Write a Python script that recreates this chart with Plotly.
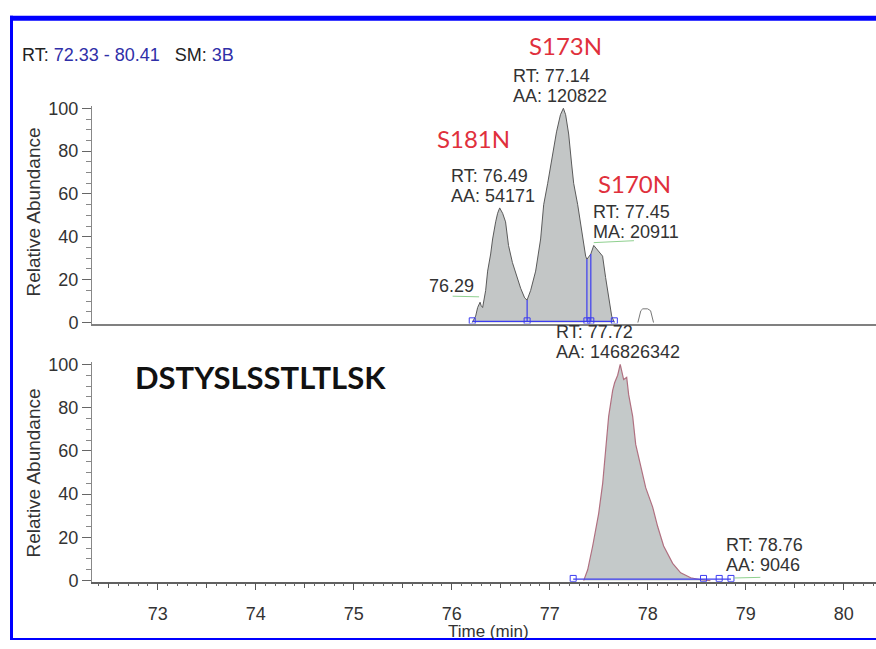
import plotly.graph_objects as go

W, H = 876, 649

# time window shown on both panels (min)
t_start, t_end = 72.33, 80.33

# upper chromatogram: S181N / S173N / S170N cluster (relative abundance, %)
top_t = [76.21, 76.245, 76.265, 76.29, 76.30, 76.316, 76.347, 76.367, 76.398, 76.418,
         76.449, 76.469, 76.49, 76.52, 76.55, 76.58, 76.62, 76.653, 76.704, 76.745,
         76.77, 76.806, 76.857, 76.908, 76.939, 76.98, 77.01, 77.03, 77.07, 77.11,
         77.14, 77.163, 77.194, 77.224, 77.245, 77.286, 77.337, 77.367, 77.38, 77.42,
         77.45, 77.49, 77.54, 77.571, 77.602, 77.633, 77.66]
top_v = [0, 3, 7, 9.5, 8, 7, 15, 24, 32, 39,
         47, 51, 53.5, 51, 47, 36, 28, 23, 16, 11.5,
         10.5, 15, 24, 39, 55, 65, 73, 79, 89, 97,
         100, 97, 88, 74, 65, 55, 39, 31, 29.5, 32,
         36, 34, 31, 21, 12, 3, 0]

# small unintegrated bump near 78 min
bump_t = [77.90, 77.93, 77.95, 78.00, 78.03, 78.06]
bump_v = [0, 5.5, 6.4, 6.4, 5.5, 0]

# lower chromatogram: DSTYSLSSTLTLSK
bot_t = [77.347, 77.388, 77.439, 77.469, 77.50, 77.541, 77.571, 77.602, 77.643, 77.663,
         77.694, 77.72, 77.755, 77.786, 77.806, 77.847, 77.878, 77.929, 77.98, 78.051,
         78.102, 78.163, 78.255, 78.337, 78.439, 78.541, 78.64]
bot_v = [0, 5, 16, 24, 31, 45, 61, 76, 88, 91.5,
         95, 100, 93, 94, 86, 76, 63, 53, 43, 34,
         25, 16, 8, 3.6, 1.3, 0.4, 0]

# integration boundaries
top_bounds_t = [76.21, 76.77, 77.38, 77.42, 77.66]
top_split_t = [76.77, 77.38, 77.42]
top_split_v = [10.5, 29.5, 32.0]
bot_bounds_t = [77.24, 78.57, 78.73, 78.85]

y_ticks = [0, 20, 40, 60, 80, 100]
x_ticks = [73, 74, 75, 76, 77, 78, 79, 80]

GRAY_TXT = "#333333"
RED = "#e0303c"
BLUE = "#3c3cf0"
BASE_FONT = "Liberation Sans"


def P(x, y):
    """pixel position -> paper coordinates"""
    return x / W, 1 - y / H


fig = go.Figure()

# upper panel
fig.add_trace(go.Scatter(x=top_t, y=top_v, mode="lines", fill="tozeroy",
                         fillcolor="#c3c6c6", line=dict(color="#5a5a5a", width=1),
                         xaxis="x", yaxis="y", hoverinfo="skip"))
fig.add_trace(go.Scatter(x=bump_t, y=bump_v, mode="lines",
                         line=dict(color="#777777", width=1),
                         xaxis="x", yaxis="y", hoverinfo="skip"))
for t, v in zip(top_split_t, top_split_v):
    fig.add_trace(go.Scatter(x=[t, t], y=[0.5, v], mode="lines",
                             line=dict(color=BLUE, width=1.2),
                             xaxis="x", yaxis="y", hoverinfo="skip"))
fig.add_trace(go.Scatter(x=[top_bounds_t[0], top_bounds_t[-1]], y=[0.5, 0.5], mode="lines",
                         line=dict(color=BLUE, width=1.2), xaxis="x", yaxis="y",
                         hoverinfo="skip"))
fig.add_trace(go.Scatter(x=top_bounds_t, y=[0.8] * len(top_bounds_t), mode="markers",
                         marker=dict(symbol="square-open", size=6, color=BLUE,
                                     line=dict(width=1)),
                         xaxis="x", yaxis="y", hoverinfo="skip"))
# label leader lines
fig.add_trace(go.Scatter(x=[76.01, 76.28], y=[12.3, 12.0], mode="lines",
                         line=dict(color="#8fd08f", width=1), xaxis="x", yaxis="y",
                         hoverinfo="skip"))
fig.add_trace(go.Scatter(x=[77.45, 77.86], y=[37.3, 38.2], mode="lines",
                         line=dict(color="#8fd08f", width=1), xaxis="x", yaxis="y",
                         hoverinfo="skip"))

# lower panel
fig.add_trace(go.Scatter(x=bot_t, y=bot_v, mode="lines", fill="tozeroy",
                         fillcolor="#c4c9c9", line=dict(color="#b07080", width=1.2),
                         xaxis="x2", yaxis="y2", hoverinfo="skip"))
fig.add_trace(go.Scatter(x=[bot_bounds_t[0], bot_bounds_t[-1]], y=[0.7, 0.7], mode="lines",
                         line=dict(color=BLUE, width=1.2), xaxis="x2", yaxis="y2",
                         hoverinfo="skip"))
fig.add_trace(go.Scatter(x=bot_bounds_t, y=[1.0] * len(bot_bounds_t), mode="markers",
                         marker=dict(symbol="square-open", size=6, color=BLUE,
                                     line=dict(width=1)),
                         xaxis="x2", yaxis="y2", hoverinfo="skip"))
fig.add_trace(go.Scatter(x=[78.88, 79.15], y=[1.2, 1.5], mode="lines",
                         line=dict(color="#8fd08f", width=1), xaxis="x2", yaxis="y2",
                         hoverinfo="skip"))
# carrier for the half-minute tick axis
fig.add_trace(go.Scatter(x=[t_start], y=[-5], mode="markers", marker=dict(opacity=0),
                         xaxis="x3", yaxis="y2", hoverinfo="skip"))

xdom = [92 / W, 1.0]
top_dom = [1 - 324.1 / H, 1 - 100.8 / H]
bot_dom = [1 - 589.1 / H, 1 - 363.8 / H]

yaxis_common = dict(
    range=[-0.5, 101], tickvals=y_ticks, ticks="outside", ticklen=9, tickwidth=1,
    tickcolor="#666666", showline=True, linecolor="#888888", linewidth=1,
    showgrid=False, zeroline=False,
    tickfont=dict(family=BASE_FONT, size=18, color=GRAY_TXT),
    minor=dict(dtick=5, ticks="outside", ticklen=5, tickcolor="#888888"),
    fixedrange=True,
)

fig.update_layout(
    width=W, height=H, margin=dict(l=0, r=0, t=0, b=0),
    paper_bgcolor="white", plot_bgcolor="white", showlegend=False,
    xaxis=dict(domain=xdom, range=[t_start, t_end], anchor="y", showline=True,
               linecolor="#808080", linewidth=1.5, ticks="", showticklabels=False,
               showgrid=False, zeroline=False),
    yaxis=dict(domain=top_dom, anchor="x", **yaxis_common),
    xaxis2=dict(domain=xdom, range=[t_start, t_end], anchor="y2", showline=True,
                linecolor="#606060", linewidth=1.5, tickvals=x_ticks, ticks="outside",
                ticklen=7, tickcolor="#555555", showgrid=False, zeroline=False,
                ticklabelstandoff=8,
                tickfont=dict(family=BASE_FONT, size=18, color=GRAY_TXT),
                minor=dict(dtick=0.1, tick0=0, ticks="outside", ticklen=3,
                           tickcolor="#666666")),
    xaxis3=dict(domain=xdom, range=[t_start, t_end], anchor="y2", overlaying="x2",
                side="bottom", tickvals=[v + 0.5 for v in [72] + x_ticks],
                ticks="outside", ticklen=5, tickcolor="#555555",
                showticklabels=False, showline=False, showgrid=False, zeroline=False),
    yaxis2=dict(domain=bot_dom, anchor="x2", **yaxis_common),
)

ann = []


def text(x, y, s, size=18, color=GRAY_TXT, family=BASE_FONT, xanchor="left", angle=0):
    px, py = P(x, y)
    ann.append(dict(x=px, y=py, xref="paper", yref="paper", text=s, showarrow=False,
                    xanchor=xanchor, yanchor="middle", textangle=angle,
                    font=dict(family=family, size=size, color=color)))


blue_txt = "#2f2fa8"
text(20, 48, "RT: <span style='color:%s'>72.33 - 80.41</span>   SM: "
             "<span style='color:%s'>3B</span>" % (blue_txt, blue_txt), size=18,
     color="#222222")

# upper panel peak labels
text(565, 38, "S173N", size=24, color=RED, family="Lato", xanchor="center")
text(511, 70, "RT: 77.14")
text(511, 90, "AA: 120822")
text(473, 134, "S181N", size=24, color=RED, family="Lato", xanchor="center")
text(449, 173, "RT: 76.49")
text(449, 193, "AA: 54171")
text(634, 180, "S170N", size=24, color=RED, family="Lato", xanchor="center")
text(591, 210, "RT: 77.45")
text(591, 230, "MA: 20911")
text(427, 285, "76.29")

# lower panel labels
text(554, 333, "RT: 77.72")
text(554, 353, "AA: 146826342")
text(133, 379, "<b>DSTYSLSSTLTLSK</b>", size=31, color="#111111", family="Lato")
text(724, 551, "RT: 78.76")
text(724, 572, "AA: 9046")

# axis titles
text(488, 640, "Time (min)", size=17, xanchor="center")
text(33, 210, "Relative Abundance", size=19, xanchor="center", angle=-90)
text(33, 478, "Relative Abundance", size=19, xanchor="center", angle=-90)

fig.update_layout(annotations=ann)

# frame around the figure
frame = [
    (10, 8, W, 13),
    (10, 8, 13, H),
    (10, 647, W, H),
]
shapes = []
for x0, y0, x1, y1 in frame:
    a0, b0 = P(x0, y1)
    a1, b1 = P(x1, y0)
    shapes.append(dict(type="rect", xref="paper", yref="paper", x0=a0, y0=b0, x1=a1,
                       y1=b1, fillcolor="#0000ff", line=dict(width=0), layer="above"))
fig.update_layout(shapes=shapes)

fig.write_html("out.html")
